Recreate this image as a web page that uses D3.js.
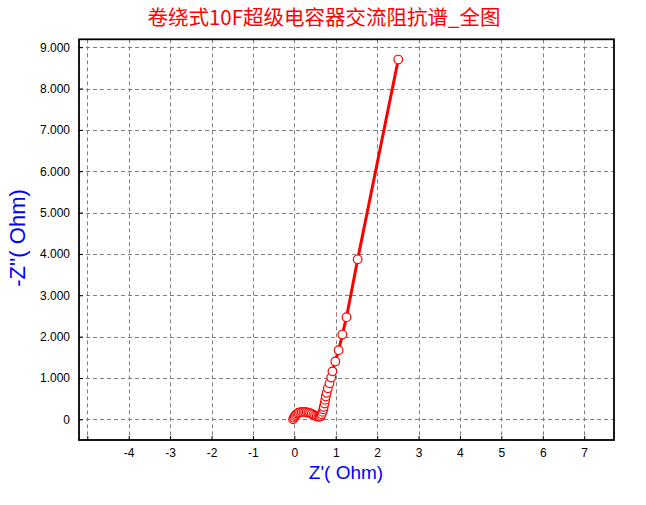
<!DOCTYPE html>
<html>
<head>
<meta charset="utf-8">
<script src="https://cdn.jsdelivr.net/npm/d3@7"></script>
<style>
  html, body { margin: 0; padding: 0; background: #fff; }
  svg { display: block; }
</style>
</head>
<body>
<svg id="chart" width="646" height="505"></svg>
<script>
// ---- Data ----
const titleText = "卷绕式10F超级电容器交流阻抗谱_全图";
const xLabel = "Z'( Ohm)";
const yLabel = "-Z''( Ohm)";
const zReal = [-0.03, -0.01, 0.01, 0.04, 0.07, 0.10, 0.14, 0.18, 0.22, 0.26, 0.30, 0.34, 0.38, 0.42, 0.46, 0.50, 0.54, 0.58, 0.61, 0.64, 0.66, 0.68, 0.70, 0.71, 0.73, 0.745, 0.76, 0.78, 0.81, 0.85, 0.89, 0.92, 0.99, 1.07, 1.16, 1.26, 1.53, 2.51];
const zImag = [0.00, 0.04, 0.08, 0.11, 0.14, 0.16, 0.17, 0.18, 0.18, 0.18, 0.17, 0.16, 0.15, 0.13, 0.11, 0.09, 0.07, 0.06, 0.06, 0.08, 0.12, 0.18, 0.24, 0.30, 0.38, 0.47, 0.55, 0.64, 0.75, 0.87, 1.01, 1.16, 1.40, 1.67, 2.05, 2.47, 3.87, 8.70];
const xGridValues = [-5, -4, -3, -2, -1, 0, 1, 2, 3, 4, 5, 6, 7];
const xTickLabels = ["", "-4", "-3", "-2", "-1", "0", "1", "2", "3", "4", "5", "6", "7"];
const yGridValues = [0, 1, 2, 3, 4, 5, 6, 7, 8, 9];
const yTickLabels = ["0", "1.000", "2.000", "3.000", "4.000", "5.000", "6.000", "7.000", "8.000", "9.000"];

const points = zReal.map((v, i) => ({ x: v, y: zImag[i] }));

// ---- Layout ----
const plot = { left: 79, right: 614, top: 39.3, bottom: 440 };
const svg = d3.select("#chart");

const x = d3.scaleLinear().domain([-5.2, 7.72]).range([plot.left, plot.right]);
const y = d3.scaleLinear().domain([-0.5, 9.19]).range([plot.bottom, plot.top]);

// Title
svg.append("text")
  .attr("x", 324).attr("y", 25)
  .attr("text-anchor", "middle")
  .attr("fill", "#ff0000")
  .attr("font-family", "'Noto Sans CJK SC', sans-serif")
  .attr("font-size", 20.5)
  .text(titleText);

// Grid
const grid = svg.append("g").attr("stroke", "#808080").attr("stroke-width", 1).attr("stroke-dasharray", "4,3");
grid.selectAll("line.vx").data(xGridValues).join("line")
  .attr("x1", d => Math.round(x(d)) + 0.5).attr("x2", d => Math.round(x(d)) + 0.5)
  .attr("y1", plot.top).attr("y2", plot.bottom);
grid.selectAll("line.hy").data(yGridValues).join("line")
  .attr("y1", d => Math.round(y(d)) + 0.5).attr("y2", d => Math.round(y(d)) + 0.5)
  .attr("x1", plot.left).attr("x2", plot.right);

// Axes (ticks inside, no domain path)
const xAxis = d3.axisBottom(x).tickValues(xGridValues).tickSizeInner(-4).tickSizeOuter(0)
  .tickFormat((d, i) => xTickLabels[i]).tickPadding(8);
const gx = svg.append("g").attr("transform", `translate(0,${plot.bottom})`).call(xAxis);
gx.select(".domain").remove();
gx.selectAll("line").attr("stroke", "#000");
gx.selectAll("text").attr("font-family", "'Liberation Sans', Arial, sans-serif").attr("font-size", 12).attr("fill", "#000");

const yAxis = d3.axisLeft(y).tickValues(yGridValues).tickSizeInner(-4).tickSizeOuter(0)
  .tickFormat((d, i) => yTickLabels[i]).tickPadding(9);
const gy = svg.append("g").attr("transform", `translate(${plot.left},0)`).call(yAxis);
gy.select(".domain").remove();
gy.selectAll("line").attr("stroke", "#000");
gy.selectAll("text").attr("font-family", "'Liberation Sans', Arial, sans-serif").attr("font-size", 12).attr("fill", "#000");

// Frame
svg.append("rect")
  .attr("x", plot.left).attr("y", plot.top)
  .attr("width", plot.right - plot.left).attr("height", plot.bottom - plot.top)
  .attr("fill", "none").attr("stroke", "#000").attr("stroke-width", 1.8);

// Line
const line = d3.line().x(d => x(d.x)).y(d => y(d.y));
svg.append("path").datum(points)
  .attr("d", line)
  .attr("fill", "none").attr("stroke", "#ff0000").attr("stroke-width", 3)
  .attr("stroke-linejoin", "round");

// Markers
svg.append("g").selectAll("circle").data(points).join("circle")
  .attr("cx", d => x(d.x)).attr("cy", d => y(d.y)).attr("r", 4.3)
  .attr("fill", "#fff").attr("stroke", "#ff0000").attr("stroke-width", 1.2);

// Axis labels
svg.append("text")
  .attr("x", 346).attr("y", 479)
  .attr("text-anchor", "middle")
  .attr("fill", "#0000ff")
  .attr("font-family", "'Liberation Sans', Arial, sans-serif")
  .attr("font-size", 19)
  .text(xLabel);

svg.append("text")
  .attr("transform", "translate(25,238) rotate(-90)")
  .attr("text-anchor", "middle")
  .attr("fill", "#0000ff")
  .attr("font-family", "'Liberation Sans', Arial, sans-serif")
  .attr("font-size", 22)
  .text(yLabel);
</script>
</body>
</html>
